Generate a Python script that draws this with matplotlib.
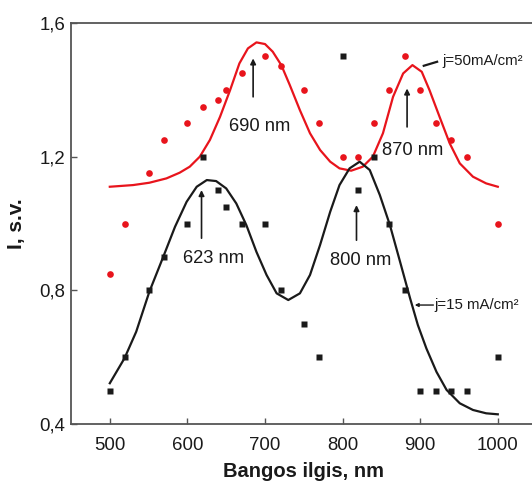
import matplotlib
matplotlib.use("Agg")
import matplotlib.pyplot as plt

plt.rcParams['font.family'] = ['Liberation Sans', 'DejaVu Sans']

# Measured intensities (points)
wavelength = [500, 520, 550, 570, 600, 620, 640, 650, 670, 700, 720, 750,
              770, 800, 820, 840, 860, 880, 900, 920, 940, 960, 1000]
i_50 = [0.85, 1.00, 1.15, 1.25, 1.30, 1.35, 1.37, 1.40, 1.45, 1.50, 1.47, 1.40,
        1.30, 1.20, 1.20, 1.30, 1.40, 1.50, 1.40, 1.30, 1.25, 1.20, 1.00]
i_15 = [0.50, 0.60, 0.80, 0.90, 1.00, 1.20, 1.10, 1.05, 1.00, 1.00, 0.80, 0.70,
        0.60, 1.50, 1.10, 1.20, 1.00, 0.80, 0.50, 0.50, 0.50, 0.50, 0.60]

# Fitted spectra (lines)
fit50_x = [500, 530, 551, 573, 590, 603, 616, 629, 642, 655, 667, 678, 689,
           700, 710, 721, 732, 745, 758, 771, 784, 796, 811, 826, 839, 852,
           865, 878, 890, 902, 912, 925, 938, 951, 968, 985, 1000]
fit50_y = [1.110, 1.115, 1.122, 1.135, 1.152, 1.170, 1.200, 1.250, 1.319,
           1.399, 1.479, 1.524, 1.542, 1.537, 1.514, 1.474, 1.414, 1.339,
           1.270, 1.220, 1.185, 1.165, 1.158, 1.170, 1.200, 1.270, 1.379,
           1.449, 1.474, 1.454, 1.399, 1.319, 1.240, 1.180, 1.140, 1.120,
           1.110]
fit15_x = [500, 519, 534, 551, 569, 584, 599, 612, 625, 637, 650, 663, 676,
           689, 702, 715, 730, 745, 758, 771, 784, 796, 809, 822, 835, 848,
           861, 874, 887, 897, 908, 921, 934, 951, 968, 985, 1000]
fit15_y = [0.522, 0.597, 0.676, 0.796, 0.901, 0.990, 1.065, 1.110, 1.130,
           1.127, 1.105, 1.060, 0.995, 0.915, 0.846, 0.791, 0.771, 0.791,
           0.846, 0.936, 1.035, 1.115, 1.165, 1.185, 1.160, 1.085, 0.995,
           0.886, 0.776, 0.696, 0.626, 0.556, 0.502, 0.462, 0.442, 0.432,
           0.429]

x_ticks = [500, 600, 700, 800, 900, 1000]
y_ticks = [0.4, 0.8, 1.2, 1.6]
y_tick_labels = ['0,4', '0,8', '1,2', '1,6']

# Peak markers: label, arrow x, arrow tail y, arrow head y, text x, text baseline y
peaks = [
    ('690 nm', 684.7, 1.379, 1.494, 693.3, 1.278),
    ('870 nm', 883.1, 1.289, 1.404, 890.9, 1.205),
    ('623 nm', 618.2, 0.956, 1.100, 633.2, 0.881),
    ('800 nm', 817.9, 0.950, 1.055, 822.8, 0.876),
]

red = '#e8141c'
dark = '#1a1a1a'
spine_col = '#555555'

fig = plt.figure(figsize=(5.32, 4.95), dpi=100)
ax = fig.add_axes([71 / 532, 71 / 495, 465.6 / 532, 401 / 495])

ax.plot(fit50_x, fit50_y, color=red, lw=1.6, solid_joinstyle='round')
ax.plot(fit15_x, fit15_y, color=dark, lw=1.6, solid_joinstyle='round')
ax.plot(wavelength, i_50, 'o', color=red, ms=4.8, mec='none')
ax.plot(wavelength, i_15, 's', color=dark, ms=4.3, mec='none')

for label, ax_x, tail_y, head_y, tx, ty in peaks:
    ax.annotate('', xy=(ax_x, head_y), xytext=(ax_x, tail_y),
                arrowprops=dict(arrowstyle='-|>', lw=1.2, color=dark,
                                mutation_scale=8, shrinkA=0, shrinkB=0))
    ax.text(tx, ty, label, ha='center', va='baseline', fontsize=13.2,
            color=dark)

# Series labels with leader lines
ax.plot([904.6, 921.8], [1.472, 1.484], color=dark, lw=1.6)
ax.text(929, 1.474, 'j=50mA/cm²', fontsize=10.8, color=dark, va='baseline',
        ha='left')
ax.annotate('', xy=(893, 0.756), xytext=(917, 0.756),
            arrowprops=dict(arrowstyle='-|>', lw=1.0, color=dark,
                            mutation_scale=5, shrinkA=0, shrinkB=0))
ax.text(918.8, 0.744, 'j=15 mA/cm²', fontsize=10.8, color=dark,
        va='baseline', ha='left')

ax.set_xlim(450, 1050)
ax.set_ylim(0.4, 1.6)
ax.set_xticks(x_ticks)
ax.set_yticks(y_ticks)
ax.set_yticklabels(y_tick_labels)
ax.tick_params(direction='in', length=4.5, width=1.0, color=spine_col,
               labelsize=13.4, labelcolor=dark)
ax.tick_params(axis='x', pad=9)
ax.tick_params(axis='y', pad=4)
for side in ['left', 'bottom', 'top']:
    ax.spines[side].set_color(spine_col)
    ax.spines[side].set_linewidth(1.3)
ax.spines['right'].set_visible(False)

ax.set_xlabel('Bangos ilgis, nm', fontsize=14.5, fontweight='bold',
              color=dark, labelpad=6)
ax.set_ylabel('I, s.v.', fontsize=15, fontweight='bold', color=dark,
              labelpad=10)

fig.savefig('out.png', dpi=100)
